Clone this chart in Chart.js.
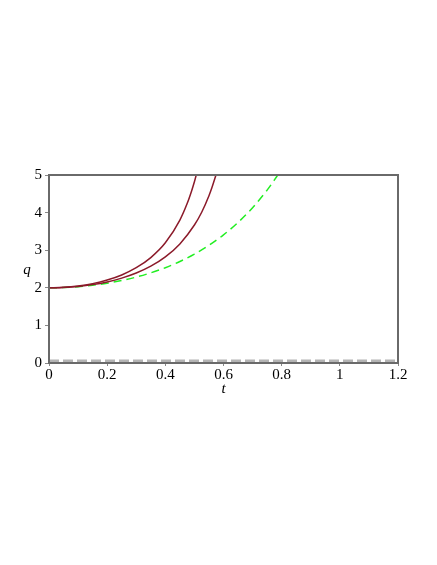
<!DOCTYPE html>
<html>
<head>
<meta charset="utf-8">
<script src="https://cdn.jsdelivr.net/npm/chart.js@4/dist/chart.umd.min.js"></script>
<style>
  html, body { margin: 0; padding: 0; background: #fff; }
  canvas { display: block; }
</style>
</head>
<body>
<canvas id="plot" width="437" height="565"></canvas>
<script>
// values
const t1 = [0, 0.05, 0.1, 0.15, 0.2, 0.25, 0.3, 0.35, 0.4, 0.45, 0.475, 0.49, 0.5, 0.51];
const q1 = [2, 2.012, 2.048, 2.111, 2.207, 2.342, 2.534, 2.804, 3.197, 3.802, 4.24, 4.57, 4.82, 5.11];

const t2 = [0, 0.05, 0.1, 0.15, 0.2, 0.25, 0.3, 0.35, 0.4, 0.45, 0.5, 0.525, 0.55, 0.56, 0.575];
const q2 = [2, 2.009, 2.037, 2.085, 2.157, 2.257, 2.392, 2.574, 2.822, 3.168, 3.67, 4.01, 4.45, 4.66, 5.02];

const t3 = [0, 0.05, 0.1, 0.15, 0.2, 0.25, 0.3, 0.35, 0.4, 0.45, 0.5, 0.55, 0.6, 0.65, 0.7, 0.75, 0.785];
const q3 = [2, 2.007, 2.03, 2.068, 2.122, 2.194, 2.285, 2.398, 2.534, 2.699, 2.896, 3.129, 3.407, 3.738, 4.13, 4.598, 4.98];

const t0 = [0, 1.2];
const q0 = [0.05, 0.05];

const xTicks = [0, 0.2, 0.4, 0.6, 0.8, 1, 1.2];
const yTicks = [0, 1, 2, 3, 4, 5];

const pts = (ts, qs) => ts.map((t, i) => ({ x: t, y: qs[i] }));
const serif = 'Liberation Serif';

// frame round the plot + the unrotated "q"
const framePlugin = {
  id: 'frame',
  afterDatasetsDraw(chart) {
    const { ctx, chartArea: a } = chart;
    ctx.save();
    ctx.strokeStyle = '#6a6a6a';
    ctx.lineWidth = 2;
    ctx.strokeRect(a.left, a.top, a.right - a.left, a.bottom - a.top);
    ctx.fillStyle = '#000';
    ctx.font = 'italic 15px "' + serif + '"';
    ctx.textAlign = 'center';
    ctx.textBaseline = 'middle';
    ctx.fillText('q', 27, 270);
    ctx.restore();
  }
};

new Chart(document.getElementById('plot'), {
  type: 'line',
  data: {
    datasets: [
      {
        data: pts(t0, q0),
        borderColor: '#b4b4b4',
        borderWidth: 3,
        borderDash: [10, 4],
        pointRadius: 0
      },
      {
        data: pts(t1, q1),
        borderColor: '#8b1a2a',
        borderWidth: 1.5,
        pointRadius: 0,
        cubicInterpolationMode: 'monotone'
      },
      {
        data: pts(t2, q2),
        borderColor: '#8b1a2a',
        borderWidth: 1.5,
        pointRadius: 0,
        cubicInterpolationMode: 'monotone'
      },
      {
        data: pts(t3, q3),
        borderColor: '#22ee22',
        borderWidth: 1.5,
        borderDash: [8, 5],
        pointRadius: 0,
        cubicInterpolationMode: 'monotone'
      }
    ]
  },
  options: {
    responsive: false,
    animation: false,
    layout: { padding: { left: 0, top: 175, right: 39, bottom: 167 } },
    plugins: { legend: { display: false }, tooltip: { enabled: false } },
    scales: {
      x: {
        type: 'linear',
        min: 0,
        max: 1.2,
        afterFit: s => { s.height = 35; },
        afterBuildTicks: s => { s.ticks = xTicks.map(v => ({ value: v })); },
        grid: { drawOnChartArea: false, tickLength: 3, color: '#888' },
        border: { display: false },
        ticks: {
          color: '#000',
          font: { family: serif, size: 15 },
          padding: 0,
          maxRotation: 0,
          callback: v => String(parseFloat(v.toFixed(1)))
        },
        title: {
          display: true,
          text: 't',
          color: '#000',
          font: { family: serif, size: 15, style: 'italic' },
          padding: { top: 0, bottom: 0 }
        }
      },
      y: {
        type: 'linear',
        min: 0,
        max: 5,
        afterFit: s => { s.width = 49; },
        afterBuildTicks: s => { s.ticks = yTicks.map(v => ({ value: v })); },
        grid: { drawOnChartArea: false, tickLength: 4, color: '#888' },
        border: { display: false },
        ticks: {
          color: '#000',
          font: { family: serif, size: 15 },
          padding: 3
        }
      }
    }
  },
  plugins: [framePlugin]
});
</script>
</body>
</html>
